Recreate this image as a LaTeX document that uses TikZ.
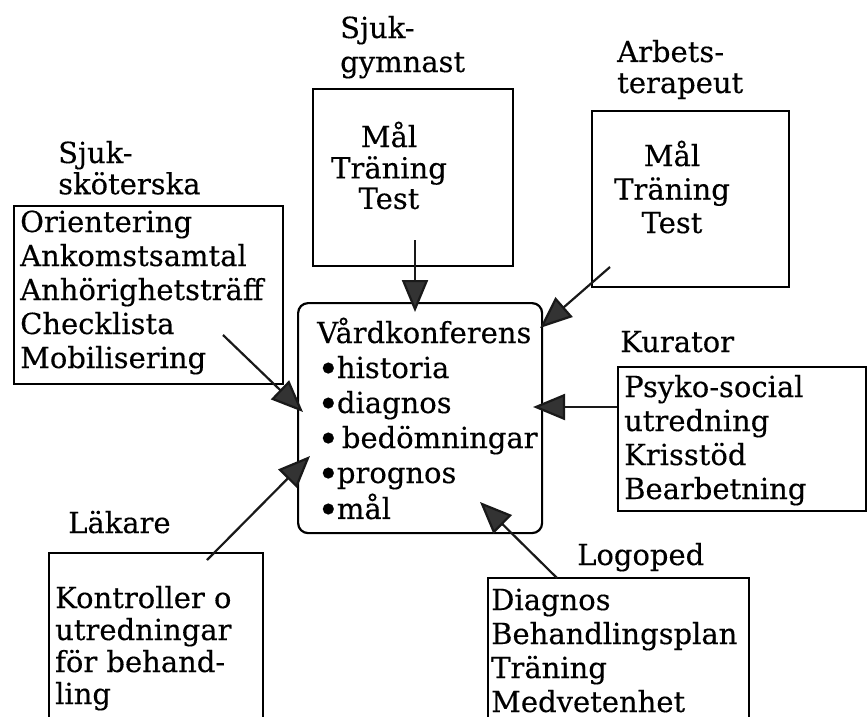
\documentclass[tikz,border=0pt]{standalone}
\usepackage{fontspec}
\setmainfont[FakeBold=0.3]{DejaVu Serif}
\usetikzlibrary{arrows.meta}
% stacked text lines: #1 column alignment, #2 line distance, #3 lines
\newcommand\txtlines[3]{{\fontsize{29}{#2}\selectfont\begin{tabular}[t]{@{}#1@{}}#3\end{tabular}}}
% enlarged list bullet, set close to the following word
\newcommand\blt{\smash{\raisebox{-0.14em}{\scalebox{1.3}{•}}}\hspace{-2.5pt}}
\begin{document}
\begin{tikzpicture}[x=1pt,y=-1pt,
  box/.style={draw, line width=1.8pt, rectangle, inner sep=0pt, anchor=north west},
  hub/.style={draw, line width=2.2pt, rectangle, rounded corners=10pt, inner sep=0pt, anchor=north west},
  lbl/.style={inner sep=0pt, anchor=base west},
  clbl/.style={inner sep=0pt, anchor=base},
  link/.style={line width=2.2pt, draw=black!90, -{Triangle[length=32pt,width=26pt,fill=black!80]}}]
\clip (0,0) rectangle (867,717);
\fill[white] (0,0) rectangle (867,717);

% boxes
\node[box, minimum width=200pt, minimum height=177pt] (sgbox) at (312,88) {};
\node[box, minimum width=197pt, minimum height=176pt] (atbox) at (591,110) {};
\node[box, minimum width=269pt, minimum height=178pt] (skbox) at (13,205) {};
\node[hub, minimum width=244pt, minimum height=230pt] (vk) at (297,302) {};
\node[box, minimum width=248pt, minimum height=144pt] (kubox) at (617,366) {};
\node[box, minimum width=214pt, minimum height=200pt] (labox) at (48,552) {};
\node[box, minimum width=261pt, minimum height=180pt] (lobox) at (487,577) {};

% profession labels
\node[lbl] (sglbl) at (340,38) {\txtlines{l}{34pt}{Sjuk-\\gymnast}};
\node[lbl] (atlbl) at (617,62) {\txtlines{l}{31pt}{Arbets-\\terapeut}};
\node[lbl] (sklbl) at (58,163) {\txtlines{l}{30pt}{Sjuk-\\sköterska}};
\node[lbl] (kulbl) at (620,352) {\txtlines{l}{34pt}{Kurator}};
\node[lbl] (lalbl) at (68,533) {\txtlines{l}{34pt}{Läkare}};
\node[lbl] (lolbl) at (577,565) {\txtlines{l}{34pt}{Logoped}};

% box contents
\node[clbl] (sgtxt) at (389,147) {\txtlines{c}{30.5pt}{Mål\\Träning\\Test}};
\node[clbl] (attxt) at (672,166) {\txtlines{c}{33.5pt}{Mål\\Träning\\Test}};
\node[lbl] (sktxt) at (20,232) {\txtlines{l}{34pt}{Orientering\\Ankomstsamtal\\Anhörighetsträff\\Checklista\\Mobilisering}};
\node[lbl] (vktxt) at (317,343) {\txtlines{l}{35pt}{Vårdkonferens\\\blt historia\\\blt diagnos\\\blt\hspace{5pt}bedömningar\\\blt prognos\\\blt mål}};
\node[lbl] (kutxt) at (624,397) {\txtlines{l}{34pt}{Psyko-social\\utredning\\Krisstöd\\Bearbetning}};
\node[lbl] (latxt) at (55,608) {\txtlines{l}{32pt}{Kontroller o\\utredningar\\för behand-\\ling}};
\node[lbl] (lotxt) at (491,610) {\txtlines{l}{34pt}{Diagnos\\Behandlingsplan\\Träning\\Medvetenhet}};

% connector ends
\coordinate (sgout) at (415,240);
\coordinate (atout) at (610,267);
\coordinate (skout) at (223,335);
\coordinate (kuout) at (617,407);
\coordinate (laout) at (207,560);
\coordinate (loout) at (557,578);
\coordinate (vksg) at (415,312);
\coordinate (vkat) at (540,328);
\coordinate (vksk) at (303,412);
\coordinate (vkku) at (533,407);
\coordinate (vkla) at (310,456);
\coordinate (vklo) at (480,502);

% connectors into the conference
\draw[link] (sgout) -- (vksg);
\draw[link] (atout) -- (vkat);
\draw[link] (skout) -- (vksk);
\draw[link] (kuout) -- (vkku);
\draw[link] (laout) -- (vkla);
\draw[link] (loout) -- (vklo);
\end{tikzpicture}
\end{document}
